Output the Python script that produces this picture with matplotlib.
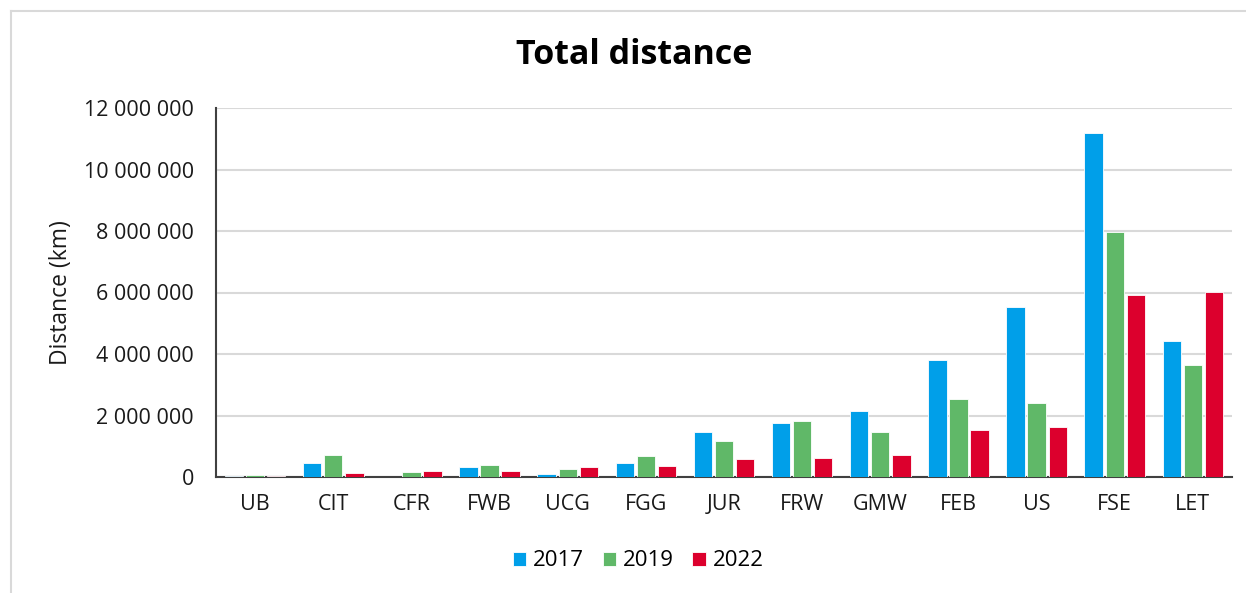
import numpy as np
import matplotlib.pyplot as plt
from matplotlib.lines import Line2D
from matplotlib.ticker import FuncFormatter

plt.rcParams['font.family'] = ['Open Sans', 'DejaVu Sans']

# Data
categories = ['UB', 'CIT', 'CFR', 'FWB', 'UCG', 'FGG', 'JUR', 'FRW', 'GMW', 'FEB', 'US', 'FSE', 'LET']
years = ['2017', '2019', '2022']
dist_2017 = [30000, 455000, 5000, 325000, 110000, 455000, 1460000, 1745000, 2150000, 3800000, 5530000, 11190000, 4420000]
dist_2019 = [80000, 715000, 160000, 400000, 260000, 672000, 1170000, 1810000, 1470000, 2530000, 2410000, 7970000, 3640000]
dist_2022 = [30000, 140000, 185000, 195000, 335000, 368000, 585000, 630000, 705000, 1520000, 1630000, 5920000, 6020000]
colors = ['#009FE9', '#60B868', '#DC002D']

W, H = 1246, 593
fig = plt.figure(figsize=(W / 100, H / 100), dpi=100)
ax = fig.add_axes([216 / W, 1 - 477 / H, (1232 - 216) / W, (477 - 108) / H])

x = np.arange(len(categories))
bw = 0.235
step = 0.27
for i, (vals, c, lab) in enumerate(zip([dist_2017, dist_2019, dist_2022], colors, years)):
    ax.bar(x + (i - 1) * step, vals, width=bw, color=c, edgecolor='white', linewidth=0.6,
           label=lab, zorder=3)

ax.set_xlim(-0.5, len(categories) - 0.5)
ax.set_ylim(0, 12000000)
ax.set_yticks(np.arange(0, 12000001, 2000000))
ax.yaxis.set_major_formatter(FuncFormatter(lambda v, p: f'{int(v):,}'.replace(',', ' ')))
ax.set_xticks(x)
ax.set_xticklabels(categories)
ax.tick_params(axis='both', length=0, labelsize=15.5, colors='#1a1a1a')
ax.tick_params(axis='x', pad=12)
ax.tick_params(axis='y', pad=16)
ax.grid(axis='y', color='#d9d9d9', linewidth=1.5, zorder=0)
ax.set_axisbelow(True)
for s in ['top', 'right']:
    ax.spines[s].set_visible(False)
for s in ['left', 'bottom']:
    ax.spines[s].set_color('#404040')
    ax.spines[s].set_linewidth(1.5)

ax.set_ylabel('Distance (km)', fontsize=16.5, color='#1a1a1a', labelpad=8)
fig.text(634 / W, 1 - 55 / H, 'Total distance', ha='center', va='center',
         fontsize=24.5, fontweight='bold', color='#000000')

ax.legend(loc='center', bbox_to_anchor=(0.5 + (638 - 724) / (1232 - 216), (477 - 561) / (477 - 108)),
          ncol=3, frameon=False, fontsize=16, handlelength=0.6, handleheight=0.6,
          handletextpad=0.3, columnspacing=0.85)

# light frame around the chart (top and left edges visible)
fig.add_artist(Line2D([11 / W, 1], [1 - 11 / H, 1 - 11 / H], color='#d9d9d9', linewidth=1.5,
                      transform=fig.transFigure))
fig.add_artist(Line2D([11 / W, 11 / W], [1 - 11 / H, 0], color='#d9d9d9', linewidth=1.5,
                      transform=fig.transFigure))

fig.savefig('out.png', dpi=100)
